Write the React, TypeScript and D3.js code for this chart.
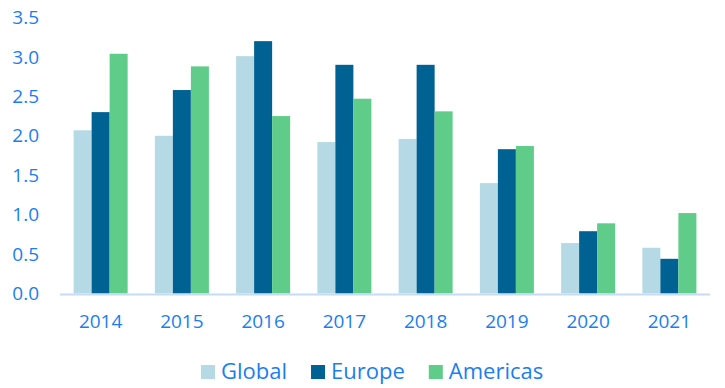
import { useEffect, useRef } from "react";
import * as d3 from "d3";

const years = ["2014", "2015", "2016", "2017", "2018", "2019", "2020", "2021"];
const globalValues = [2.07, 2.0, 3.01, 1.92, 1.96, 1.4, 0.64, 0.58];
const europeValues = [2.3, 2.58, 3.2, 2.9, 2.9, 1.83, 0.79, 0.44];
const americasValues = [3.04, 2.88, 2.25, 2.47, 2.31, 1.87, 0.89, 1.02];
const seriesNames = ["Global", "Europe", "Americas"];
const seriesColors = ["#b6dae5", "#006193", "#5fcd89"];
const yTicks = [0, 0.5, 1, 1.5, 2, 2.5, 3, 3.5];

const textColor = "#1a7ef0";
const fontFamily = "'Open Sans', sans-serif";

export default function App() {
  const svgRef = useRef<SVGSVGElement | null>(null);

  useEffect(() => {
    if (!svgRef.current) return;
    const width = 725;
    const height = 388;
    const margin = { top: 17.5, right: 15, bottom: 94.5, left: 60 };
    const innerW = width - margin.left - margin.right;
    const innerH = height - margin.top - margin.bottom;

    const svg = d3.select(svgRef.current);
    svg.selectAll("*").remove();

    const g = svg
      .append("g")
      .attr("transform", `translate(${margin.left},${margin.top})`);

    const x0 = d3
      .scaleBand()
      .domain(years)
      .range([0, innerW])
      .paddingInner(0.335)
      .paddingOuter(0.1675);

    const x1 = d3
      .scaleBand()
      .domain(seriesNames)
      .range([0, x0.bandwidth()]);

    const y = d3.scaleLinear().domain([0, 3.5]).range([innerH, 0]);

    const allSeries = [globalValues, europeValues, americasValues];

    // bars
    seriesNames.forEach((name, si) => {
      g.selectAll(`rect.s${si}`)
        .data(allSeries[si])
        .join("rect")
        .attr("class", `s${si}`)
        .attr("x", (_, i) => (x0(years[i]) || 0) + (x1(name) || 0))
        .attr("y", (d) => y(d))
        .attr("width", x1.bandwidth())
        .attr("height", (d) => innerH - y(d))
        .attr("fill", seriesColors[si]);
    });

    // baseline
    g.append("line")
      .attr("x1", 0)
      .attr("x2", innerW)
      .attr("y1", innerH + 1)
      .attr("y2", innerH + 1)
      .attr("stroke", "#c6dcf6")
      .attr("stroke-width", 2);

    // y tick labels
    g.selectAll("text.ytick")
      .data(yTicks)
      .join("text")
      .attr("class", "ytick")
      .attr("x", -21)
      .attr("y", (d) => y(d))
      .attr("dy", "0.35em")
      .attr("text-anchor", "end")
      .style("font-family", fontFamily)
      .style("font-size", "19px")
      .style("fill", textColor)
      .text((d) => d.toFixed(1));

    // x tick labels
    g.selectAll("text.xtick")
      .data(years)
      .join("text")
      .attr("class", "xtick")
      .attr("x", (d) => (x0(d) || 0) + x0.bandwidth() / 2)
      .attr("y", innerH + 34.5)
      .attr("text-anchor", "middle")
      .style("font-family", fontFamily)
      .style("font-size", "19px")
      .style("fill", textColor)
      .text((d) => d);

    // legend
    const legend = svg.append("g").attr("transform", "translate(201,365)");
    let cursor = 0;
    seriesNames.forEach((name, i) => {
      const item = legend.append("g").attr("transform", `translate(${cursor},0)`);
      item
        .append("rect")
        .attr("width", 14)
        .attr("height", 14)
        .attr("fill", seriesColors[i]);
      const t = item
        .append("text")
        .attr("x", 20)
        .attr("y", 14)
        .style("font-family", fontFamily)
        .style("font-size", "22px")
        .style("fill", textColor)
        .text(name);
      const w = (t.node() as SVGTextElement).getComputedTextLength();
      cursor += 20 + w + 24;
    });
  }, []);

  return (
    <svg
      ref={svgRef}
      width={725}
      height={388}
      style={{ position: "absolute", left: 0, top: 0, background: "#fff" }}
    />
  );
}
